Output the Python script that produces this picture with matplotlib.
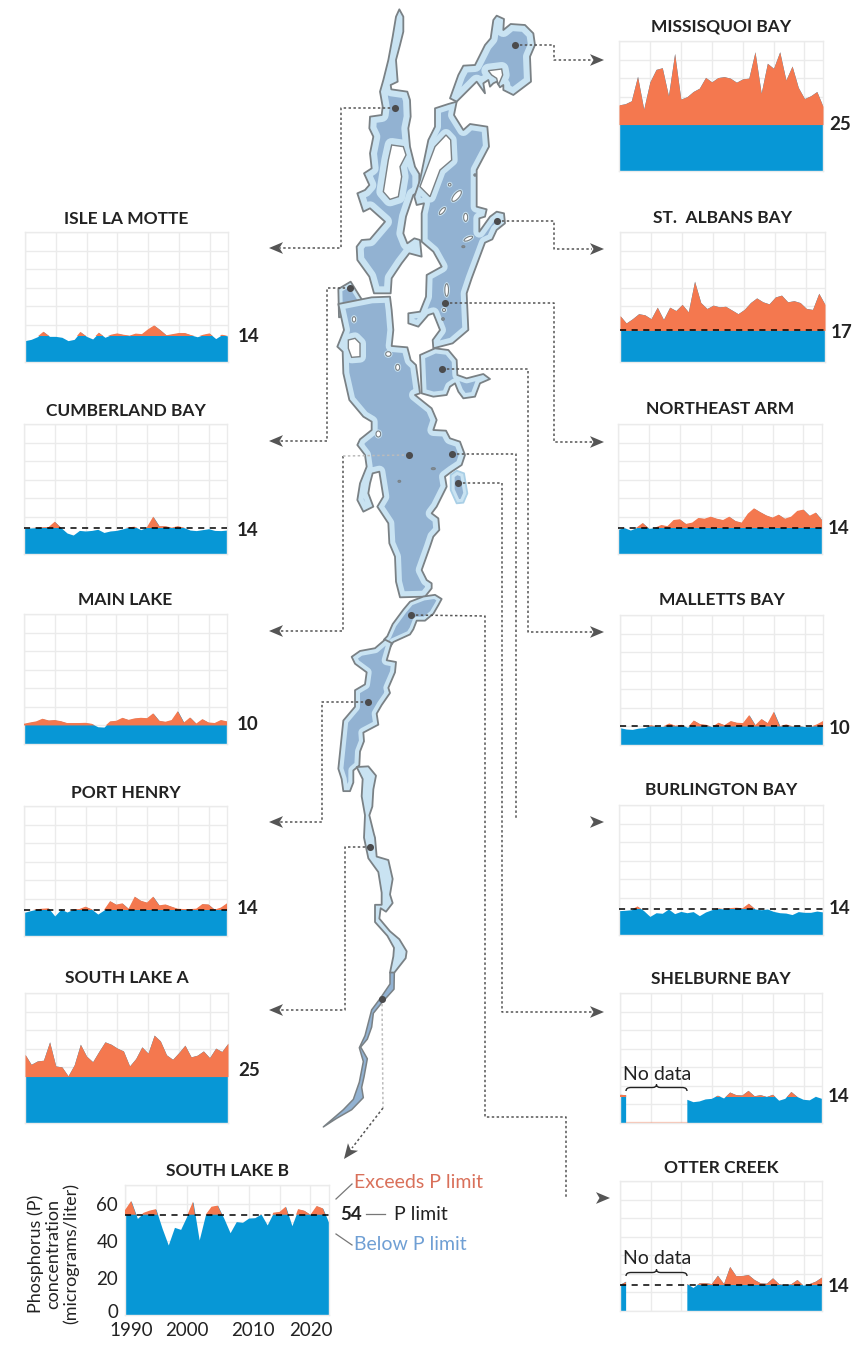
import matplotlib
matplotlib.use("Agg")
import matplotlib.pyplot as plt
import numpy as np
from matplotlib.patches import Polygon, Ellipse, PathPatch
from matplotlib.path import Path
from matplotlib.transforms import ScaledTranslation

plt.rcParams["font.family"] = ["Lato", "DejaVu Sans"]

W, H = 859, 1347
n = np.nan
YEARS = np.arange(1990, 2024)

# ============================
# PHOSPHORUS SERIES (ug/l, 1990-2023)
# ============================
MISSISQUOI = [35.6, 36.2, 37.8, 51, 33.3, 48, 54.7, 55.6, 40.5, 63.3, 38.7, 40, 42.8, 44.6, 50.4, 48, 50.3,
              50.8, 50, 47.8, 49.6, 50, 64.2, 41.9, 58, 55.3, 64.2, 49, 56.5, 45, 39, 40.5, 42.8, 34.8]
ST_ALBANS = [25, 21, 23.3, 26, 25.4, 23.3, 29.5, 22.9, 29.5, 27.7, 31, 27, 43.5, 32, 28.8, 30.6, 29.7,
             30, 28, 26, 28.3, 32, 34.5, 32.4, 31.3, 35, 36, 32.4, 33, 32, 28.8, 28.3, 37, 31]
NORTHEAST_ARM = [13.3, 14.2, 12.9, 14.2, 16.7, 13.8, 14.2, 15.6, 15, 18.3, 18.7, 16.2, 16.9, 19.4, 19, 20.1, 19,
                 18.3, 20.1, 17.8, 16.9, 21.7, 24.6, 22.6, 20.8, 19.6, 21.2, 19, 20.1, 23.2, 23.9, 20.6, 22.3, 18.3]
MALLETTS = [9.3, 8.6, 8.4, 9.1, 9.3, 10.7, 10, 10, 11.6, 10.4, 10.9, 9.5, 13.2, 11.3, 10.9, 9.8, 12,
            10.7, 12.9, 12, 11.8, 16.1, 10.7, 14, 11.8, 17.9, 10.2, 11.1, 10.2, 10.5, 9.9, 9.9, 11.1, 12.9]
BURLINGTON = [13.1, 13.3, 13.6, 15.4, 13.1, 10, 12, 11.7, 14, 11.5, 12.7, 12, 12.6, 10.4, 12.4, 13.6, 14.4,
              14, 14.5, 14.7, 14.4, 16.9, 14, 13.6, 14, 12.7, 12, 11.8, 11, 12.6, 12.2, 12.2, 12.9, 12.4]
SHELBURNE = [15.2, 15, n, n, n, n, n, n, n, n, n, 12.5, 11.2, 11.6, 12.7, 13, 14.7,
             13.2, 16.4, 15, 14.8, 17.3, 14.4, 15, 14, 15.2, 12, 13, 16.7, 14, 12.5, 12.2, 14.1, 13]
OTTER = [14, 15.8, n, n, n, n, n, n, n, n, n, 14.5, 12.4, 14.9, 15, 14.5, 19,
         14.5, 23.7, 18.8, 18.8, 19.4, 16.7, 14.9, 14.7, 17.6, 14.5, 13.8, 14.4, 16.7, 13.6, 14.5, 15.8, 18]
ISLE_LA_MOTTE = [11.5, 12.2, 13.6, 16.3, 13.8, 13.8, 13.3, 11.5, 12.2, 16.2, 13.8, 12.4, 15.8, 13.3, 14.7, 15.4, 14.7,
                 14.2, 15.3, 15, 17.6, 19.7, 17.2, 14.4, 15, 15.6, 15.6, 14.5, 13.6, 14.7, 15.4, 12.6, 14.7, 14]
CUMBERLAND = [13.8, 14, 14.2, 14.4, 14.5, 17.4, 14.2, 11.3, 10.2, 12.7, 12.4, 12.7, 13.3, 11.6, 12.4, 12.7, 13.5,
              14.4, 14.7, 13.1, 14.5, 20.1, 15, 15, 14.2, 15, 14.2, 12.9, 12.6, 13.1, 13.6, 12.7, 12.6, 12.9]
MAIN_LAKE = [10.9, 11.6, 12.2, 13.6, 12.7, 12.9, 12.3, 11.3, 11.3, 11.3, 11.4, 10.9, 9.3, 9.1, 12.2, 12.5, 14.1,
             13, 13.8, 14.1, 13.9, 16.5, 12.5, 12, 12.9, 17.7, 11.6, 14.3, 11, 13.4, 11.6, 11.3, 12.9, 12.2]
PORT_HENRY = [12.7, 13.6, 14.4, 14.7, 14.9, 10.8, 14.4, 12.9, 14.4, 14.5, 15.8, 14.4, 11.8, 14, 18.8, 16.9, 17.6,
              14.7, 21.2, 19, 18, 21.2, 16.5, 17, 15.8, 14.7, 14.5, 14.5, 14.7, 17.2, 17, 14.2, 15.3, 17.6]
SOUTH_LAKE_A = [37, 31.6, 33.4, 33.8, 43.7, 30.7, 30.2, 25.4, 31.3, 42.4, 36, 33, 38.5, 43.7, 42.4, 40.3, 38.8,
                30.7, 34.7, 41, 37.6, 47.3, 44.2, 36.7, 34.3, 37.9, 41.9, 35.6, 36.5, 38.8, 35.2, 40.3, 38.5, 43]
SOUTH_LAKE_B = [56.5, 61.4, 52, 55, 56.2, 57, 46.7, 37.7, 47.2, 46.1, 53.2, 61, 40.4, 53.8, 58.3, 58.9, 52,
                44.3, 50.3, 49.9, 52.2, 52.4, 54.4, 48.5, 55.1, 55.5, 58.3, 48.1, 57, 56.2, 54, 58.7, 57.4, 49.4]

# name, series, limit, panel box (left, right, top, bottom in px), title y, limit label y, dashed limit?
PANELS = [
    ("MISSISQUOI BAY", MISSISQUOI, 25, (619, 823, 41, 171), 26, 125, False),
    ("ST.  ALBANS BAY", ST_ALBANS, 17, (620, 825, 232, 362), 218, 332, True),
    ("NORTHEAST ARM", NORTHEAST_ARM, 14, (618, 822, 424, 554), 409, 529, True),
    ("MALLETTS BAY", MALLETTS, 10, (620, 823, 615, 745), 600, 728, True),
    ("BURLINGTON BAY", BURLINGTON, 14, (619, 823, 805, 935), 790, 909, True),
    ("SHELBURNE BAY", SHELBURNE, 14, (620, 822, 993, 1123), 979, 1097, False),
    ("OTTER CREEK", OTTER, 14, (620, 822, 1181, 1311), 1168, 1287, True),
    ("ISLE LA MOTTE", ISLE_LA_MOTTE, 14, (25, 228, 232, 362), 219, 336, False),
    ("CUMBERLAND BAY", CUMBERLAND, 14, (24, 227, 424, 554), 411, 531, True),
    ("MAIN LAKE", MAIN_LAKE, 10, (24, 227, 614, 744), 600, 724, False),
    ("PORT HENRY", PORT_HENRY, 14, (24, 227, 806, 936), 793, 908, True),
    ("SOUTH LAKE A", SOUTH_LAKE_A, 25, (25, 228, 993, 1123), 978, 1071, False),
    ("SOUTH LAKE B", SOUTH_LAKE_B, 54, (125, 329, 1185, 1315), 1171, None, True),
]

# ============================
# LAKE OUTLINES (traced from 3x crops)
# ============================
# origin x, origin y, y scale of the crop
NORTH_CROP = (320, 0, 1 / 3)
MAIN_CROP = (320, 280, 1 / 3)
SOUTH_CROP = (310, 600, 0.3444)

WEST_ARM = [(238, 28), (250, 50), (250, 95), (240, 135), (228, 180), (233, 245), (212, 255), (214, 268), (262, 275),
            (270, 300), (272, 350), (265, 385), (270, 440), (285, 500), (298, 522), (298, 575), (280, 585), (258, 650),
            (250, 700), (262, 730), (283, 715), (300, 720), (305, 770), (268, 760), (245, 790), (215, 835), (212, 880),
            (162, 880), (148, 830), (112, 780), (110, 740), (125, 720), (150, 718), (195, 665), (150, 625), (130, 635),
            (112, 580), (135, 570), (148, 555), (132, 520), (155, 505), (150, 460), (160, 410), (148, 385), (150, 350),
            (185, 345), (188, 320), (180, 275), (190, 240), (205, 180), (218, 110), (228, 50)]
WEST_ARM_HOLE = [(215, 435), (250, 440), (258, 465), (240, 500), (245, 530), (235, 590), (210, 598), (190, 575),
                 (205, 480)]

MISSISQUOI_LOBE = [(390, 295), (415, 225), (430, 197), (465, 195), (495, 135), (512, 115), (520, 60), (530, 47),
                   (552, 57), (550, 90), (572, 72), (615, 75), (640, 100), (645, 135), (630, 170), (633, 245),
                   (580, 285), (550, 270), (550, 255), (540, 262), (530, 245), (520, 250), (510, 260), (505, 240),
                   (490, 250), (495, 280), (470, 245), (445, 270), (410, 305)]
MISSISQUOI_HOLE = [(505, 212), (545, 207), (548, 225), (535, 255), (530, 235), (515, 225)]

INLAND_SEA = [(345, 325), (385, 312), (410, 305), (402, 345), (430, 390), (450, 372), (502, 380), (507, 440),
              (470, 510), (470, 620), (500, 628), (495, 650), (478, 655), (478, 695), (510, 650), (530, 635),
              (552, 640), (555, 670), (530, 690), (517, 718), (495, 728), (455, 835), (440, 880), (445, 990),
              (398, 1030), (340, 1045), (338, 1020), (360, 990), (340, 940), (325, 945), (295, 980), (265, 970),
              (265, 940), (300, 935), (318, 890), (320, 825), (365, 800), (340, 755), (305, 725), (305, 640),
              (312, 610), (290, 615), (283, 590), (300, 540), (325, 420), (345, 380)]
INLAND_SEA_HOLE = [(378, 405), (392, 420), (395, 480), (360, 510), (330, 590), (300, 560), (330, 480), (345, 440)]
# cx, cy, w, h, angle
NORTH_ISLANDS = [(410, 588, 16, 40, 40), (367, 633, 10, 26, 40), (437, 652, 12, 24, 0), (445, 716, 10, 28, 65),
                 (389, 554, 8, 8, 0), (380, 870, 11, 38, 0), (372, 930, 9, 9, 0)]
NORTH_SPECKS = [(465, 525, 7, 7, 0), (430, 740, 9, 6, 0), (369, 957, 8, 8, 0)]

CUMBERLAND_LOBE = [(55, 27), (92, 5), (120, 50), (148, 92), (57, 112)]
MAIN_BODY = [(55, 72), (155, 52), (210, 50), (215, 90), (220, 150), (215, 198), (262, 202), (272, 240), (288, 255),
             (300, 340), (285, 345), (335, 385), (350, 420), (340, 450), (378, 452), (390, 475), (420, 485), (435, 525),
             (425, 555), (395, 575), (375, 590), (380, 620), (350, 680), (335, 700), (355, 715), (358, 750), (340, 770),
             (330, 800), (305, 870), (320, 900), (335, 910), (335, 925), (315, 950), (240, 952), (228, 905), (225, 830),
             (208, 790), (205, 730), (172, 680), (190, 650), (178, 575), (158, 580), (150, 610), (145, 640), (160, 680),
             (130, 695), (112, 660), (120, 610), (140, 560), (135, 525), (112, 495), (120, 478), (155, 450), (155, 425),
             (130, 410), (88, 360), (70, 280), (68, 215), (52, 200), (72, 150)]
MAIN_HOLE = [(85, 180), (105, 175), (120, 190), (120, 230), (95, 232), (85, 205)]
MAIN_ISLANDS = [(102, 118, 10, 16, 0), (205, 222, 16, 14, 0), (233, 262, 12, 18, 0), (175, 462, 14, 18, 0)]
MAIN_SPECKS = [(340, 566, 12, 6, 0), (238, 604, 8, 6, 0)]
NE_ARM = [(300, 225), (345, 205), (385, 210), (410, 240), (412, 285), (440, 295), (490, 282), (510, 297), (480, 310),
          (465, 350), (430, 355), (415, 335), (405, 310), (390, 320), (380, 345), (340, 350), (305, 340)]
MALLETTS_LOBE = [(392, 585), (410, 572), (432, 580), (442, 640), (430, 668), (410, 670), (392, 630)]

NARROWS = [(232, 105), (248, 70), (280, 28), (300, 5), (340, -10), (375, -15), (395, -3), (385, 15), (370, 40),
           (345, 60), (320, 60), (310, 85), (300, 100), (250, 122), (228, 155), (222, 115)]
PORT_HENRY_LOBE = [(125, 165), (150, 148), (195, 140), (225, 115), (245, 125), (230, 175), (258, 180), (255, 210),
                   (235, 255), (240, 270), (215, 305), (200, 330), (205, 362), (160, 385), (162, 410), (150, 440),
                   (148, 480), (130, 495), (130, 530), (120, 555), (100, 555), (95, 520), (85, 490), (100, 350),
                   (135, 310), (135, 262), (165, 245), (170, 210), (135, 185)]
SOUTH_CHANNEL = [(140, 485), (175, 483), (198, 510), (190, 550), (187, 600), (178, 625), (192, 680), (195, 690),
                 (200, 745), (235, 755), (248, 810), (240, 855), (248, 880), (228, 905), (212, 895), (208, 925),
                 (240, 962), (268, 985), (290, 1020), (287, 1040), (253, 1082), (240, 1082), (250, 1035), (252, 1010),
                 (232, 975), (195, 935), (195, 885), (215, 885), (215, 850), (205, 790), (175, 750), (162, 690),
                 (165, 625), (155, 570), (158, 520)]
SOUTH_TAIL = [(240, 1082), (253, 1082), (252, 1130), (215, 1170), (190, 1200), (185, 1240), (172, 1275), (152, 1298),
              (172, 1332), (162, 1385), (155, 1415), (160, 1445), (125, 1480), (80, 1505), (40, 1530), (100, 1480),
              (130, 1450), (148, 1400), (160, 1340), (148, 1300), (165, 1265), (185, 1190), (212, 1155), (240, 1115)]

# connectors in px
STATIONS = [(395, 108), (515, 45), (497, 221), (445, 303), (350, 288), (442, 369), (409, 455), (452, 454),
            (458, 483), (411, 615), (368, 702), (370, 847), (382, 999)]
CONNECTORS = [
    [(395, 108), (341, 108), (341, 248), (280, 248)],
    [(515, 45), (554, 45), (554, 60), (592, 60)],
    [(497, 221), (554, 221), (554, 249), (592, 249)],
    [(445, 303), (554, 303), (554, 442), (592, 442)],
    [(350, 288), (327, 288), (327, 441), (280, 441)],
    [(442, 369), (528, 369), (528, 632), (592, 632)],
    [(343, 456), (343, 631), (280, 631)],
    [(452, 454), (516, 454), (516, 820)],
    [(458, 483), (502, 483), (502, 1012), (592, 1012)],
    [(411, 615), (485, 616), (485, 1117), (566, 1117), (566, 1198)],
    [(368, 702), (322, 702), (322, 822), (280, 822)],
    [(370, 847), (345, 847), (345, 1010), (280, 1010)],
    [(383, 1108), (352, 1148)],
]
FAINT_CONNECTORS = [
    [(409, 455), (343, 456)],
    [(382, 999), (383, 1108)],
]
ARROWS = [((283, 248), (269, 248)), ((590, 60), (604, 60)), ((590, 249), (604, 249)), ((590, 442), (604, 442)),
          ((283, 441), (269, 441)), ((590, 632), (604, 632)), ((283, 631), (269, 631)), ((590, 822), (604, 822)),
          ((590, 1012), (604, 1012)), ((596, 1198), (610, 1198)), ((283, 822), (269, 822)), ((283, 1010), (269, 1010)),
          ((353, 1147), (344, 1159))]

# Colours
ORANGE = "#f4784f"
BLUE = "#0797d6"
GRID = "#ebebeb"
LIGHT_WATER = "#c9e3f2"
DEEP_WATER = "#92b2d2"
SHORE = "#7a8185"
CONNECT = "#555555"
TEXT = "#222222"


def crop(points, origin):
    pts = np.array(points, dtype=float)
    return np.column_stack([pts[:, 0] / 3 + origin[0], pts[:, 1] * origin[2] + origin[1]])


fig = plt.figure(figsize=(W / 100, H / 100), dpi=100, facecolor="white")
base = fig.add_axes([0, 0, 1, 1], zorder=0)
over = fig.add_axes([0, 0, 1, 1], zorder=20)
for a in (base, over):
    a.set_xlim(0, W)
    a.set_ylim(H, 0)
    a.axis("off")


def water(points, origin, band=6, edge=SHORE, lw=1.3, holes=()):
    """Deep fill, light band along the shore (stroke clipped to the shape), then the shoreline."""
    pts = crop(points, origin)
    body = Polygon(pts, closed=True, facecolor=DEEP_WATER, edgecolor="none")
    base.add_patch(body)
    ring = Polygon(pts, closed=True, facecolor="none", edgecolor=LIGHT_WATER, linewidth=band * 2 * 0.72,
                   joinstyle="round")
    base.add_patch(ring)
    ring.set_clip_path(body)
    for h in holes:
        halo = Polygon(crop(h, origin), closed=True, facecolor="none", edgecolor=LIGHT_WATER,
                       linewidth=band * 2 * 0.72, joinstyle="round")
        base.add_patch(halo)
        halo.set_clip_path(body)
    base.add_patch(Polygon(pts, closed=True, facecolor="none", edgecolor=edge, linewidth=lw, joinstyle="round"))
    for h in holes:
        base.add_patch(Polygon(crop(h, origin), closed=True, facecolor="white", edgecolor=SHORE, linewidth=1.0))


def blobs(items, origin, color, halo=False):
    for cx, cy, w, h, ang in items:
        x, y = crop([(cx, cy)], origin)[0]
        if halo:
            base.add_patch(Ellipse((x, y), w / 3 + 3, h / 3 + 3, angle=ang, facecolor=LIGHT_WATER, edgecolor="none"))
        base.add_patch(Ellipse((x, y), w / 3, h / 3, angle=ang, facecolor=color, edgecolor=SHORE, linewidth=0.8))


# ============================
# DRAW LAKE
# ============================
water(WEST_ARM, NORTH_CROP, band=7, holes=[WEST_ARM_HOLE])
water(MISSISQUOI_LOBE, NORTH_CROP, band=7, holes=[MISSISQUOI_HOLE])
water(INLAND_SEA, NORTH_CROP, band=6, holes=[INLAND_SEA_HOLE])
blobs(NORTH_ISLANDS, NORTH_CROP, "white", halo=True)
blobs(NORTH_SPECKS, NORTH_CROP, "#7f8f9f")

water(CUMBERLAND_LOBE, MAIN_CROP, band=4)
water(MAIN_BODY, MAIN_CROP, band=6, holes=[MAIN_HOLE])
blobs(MAIN_ISLANDS, MAIN_CROP, "white", halo=True)
blobs(MAIN_SPECKS, MAIN_CROP, "#7f8f9f")
water(NE_ARM, MAIN_CROP, band=5)
water(MALLETTS_LOBE, MAIN_CROP, band=4, edge="#a9cfe6")

water(NARROWS, SOUTH_CROP, band=4)
water(PORT_HENRY_LOBE, SOUTH_CROP, band=5)
water(SOUTH_CHANNEL, SOUTH_CROP, band=30)
water(SOUTH_TAIL, SOUTH_CROP, band=0, lw=1.1)

# Connectors
for path in CONNECTORS:
    xs, ys = zip(*path)
    base.plot(xs, ys, color=CONNECT, lw=1.1, dashes=(1.6, 1.6))
for path in FAINT_CONNECTORS:
    xs, ys = zip(*path)
    base.plot(xs, ys, color="#bbbbbb", lw=1.1, dashes=(1.6, 1.6))
for start, tip in ARROWS:
    s, t = np.array(start, dtype=float), np.array(tip, dtype=float)
    along = t - s
    side = np.array([-along[1], along[0]]) * 0.42
    base.add_patch(Polygon([t, s + side, s + along * 0.25, s - side], closed=True, facecolor=CONNECT, edgecolor="none"))
sx, sy = zip(*STATIONS)
base.scatter(sx, sy, s=26, color="#4b4b4d", zorder=7, linewidths=0)


# ============================
# DRAW PANELS
# ============================
def add_panel(name, series, limit, box, title_y, dashed):
    left, right, top, bottom = box
    ax = fig.add_axes([left / W, 1 - bottom / H, (right - left) / W, (bottom - top) / H], zorder=5)
    y = np.array(series, dtype=float)
    ax.set_xlim(YEARS[0], YEARS[-1])
    ax.set_ylim(0, 70)
    ax.set_xticks(np.arange(1990, 2024, 5))
    ax.set_yticks(np.arange(0, 71, 10))
    ax.grid(True, color=GRID, lw=1.0)
    ax.set_axisbelow(True)
    for s in ax.spines.values():
        s.set_color(GRID)
        s.set_linewidth(1.0)
    ax.fill_between(YEARS, 0, y, color=BLUE, lw=0, zorder=2)
    ax.fill_between(YEARS, limit, y, where=y > limit, interpolate=True, color=ORANGE, lw=0, zorder=3)
    if dashed:
        ax.plot([YEARS[0], YEARS[-1]], [limit, limit], color="black", lw=1.1, dashes=(4, 3.6), zorder=4)
    ax.tick_params(length=0, labelleft=False, labelbottom=False)
    over.text((left + right) / 2, title_y, name, ha="center", va="center", fontsize=12.5,
              fontweight="bold", color=TEXT)
    return ax


def nudge(label, dx, dy):
    label.set_transform(label.get_transform() + ScaledTranslation(dx / 72, dy / 72, fig.dpi_scale_trans))


for name, series, limit, box, title_y, label_y, dashed in PANELS:
    ax = add_panel(name, series, limit, box, title_y, dashed)
    if name in ("SHELBURNE BAY", "OTTER CREEK"):
        brace_y = 1091 if name == "SHELBURNE BAY" else 1276
        over.text(657, brace_y - 17, "No data", ha="center", va="center", fontsize=14, color=TEXT)
        x0, x1, xm = 626, 687, 656.5
        verts = [(x0, brace_y), (x0, brace_y - 3.5), (x0 + 5, brace_y - 3.5), (xm - 4, brace_y - 3.5),
                 (xm, brace_y - 3.5), (xm, brace_y - 6.5), (xm, brace_y - 3.5), (xm + 4, brace_y - 3.5),
                 (x1 - 5, brace_y - 3.5), (x1, brace_y - 3.5), (x1, brace_y)]
        codes = [Path.MOVETO, Path.CURVE3, Path.CURVE3, Path.LINETO, Path.CURVE3, Path.CURVE3, Path.CURVE3,
                 Path.CURVE3, Path.LINETO, Path.CURVE3, Path.CURVE3]
        over.add_patch(PathPatch(Path(verts, codes), facecolor="none", edgecolor=TEXT, lw=1.0))
    if name == "SHELBURNE BAY":
        ax.plot([1991, 2001], [0.3, 0.3], color=ORANGE, lw=1.0, alpha=0.35, zorder=3)
    if name == "SOUTH LAKE B":
        ax.set_yticks([0, 20, 40, 60])
        ax.set_xticks([1990, 2000, 2010, 2020])
        ax.tick_params(labelleft=True, labelbottom=True, labelsize=13.5, pad=5, labelcolor=TEXT)
        fig.canvas.draw()
        nudge(ax.get_yticklabels()[0], 0, 3)
        nudge(ax.get_xticklabels()[0], 4.5, 0)
        nudge(ax.get_xticklabels()[2], 3, 0)
        ax.set_xticks(np.arange(1990, 2024, 5), minor=True)
        ax.set_yticks(np.arange(0, 71, 10), minor=True)
        ax.grid(True, which="minor", color=GRID, lw=1.0)
        ax.tick_params(which="minor", length=0)
    else:
        off = 10 if box[0] < 300 else 6
        over.text(box[1] + off, label_y, str(limit), ha="left", va="center", fontsize=13.5,
                  fontweight="bold", color=TEXT)

# Legend callouts on South Lake B
over.text(340, 1214, "54", ha="left", va="center", fontsize=13.5, fontweight="bold", color=TEXT)
over.plot([366, 385], [1214, 1214], color="#777777", lw=0.9)
over.text(394, 1214, "P limit", ha="left", va="center", fontsize=14, color=TEXT)
over.plot([336, 352], [1199, 1184], color="#777777", lw=0.9)
over.text(354, 1182, "Exceeds P limit", ha="left", va="center", fontsize=14, color="#d9705a")
over.plot([336, 352], [1234, 1245], color="#777777", lw=0.9)
over.text(354, 1245, "Below P limit", ha="left", va="center", fontsize=14, color="#6f9fd4")
over.text(53, 1254, "Phosphorus (P)\nconcentration\n(micrograms/liter)", rotation=90, ha="center", va="center",
          fontsize=13, color=TEXT, linespacing=1.1)
over.set_xlim(0, W)
over.set_ylim(H, 0)

fig.savefig("out.png", dpi=100)
